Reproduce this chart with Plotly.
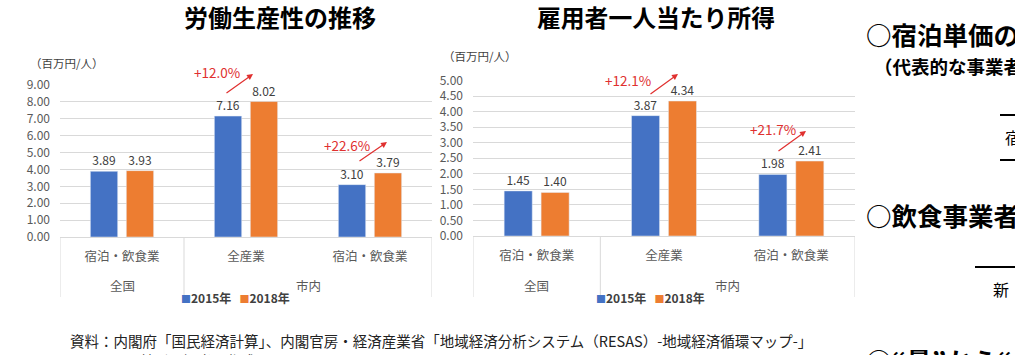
import plotly.graph_objects as go

# ---------------- data ----------------
outer_cats = ["全国", "市内", "市内"]
inner_cats = ["宿泊・飲食業", "全産業", "宿泊・飲食業"]
series_names = ["2015年", "2018年"]

productivity_2015 = [3.89, 7.16, 3.10]
productivity_2018 = [3.93, 8.02, 3.79]

income_2015 = [1.45, 3.87, 1.98]
income_2018 = [1.40, 4.34, 2.41]

prod_ticks = [0, 1, 2, 3, 4, 5, 6, 7, 8, 9]
income_ticks = [0, 0.5, 1, 1.5, 2, 2.5, 3, 3.5, 4, 4.5, 5]

growth_prod = ["+12.0%", "+22.6%"]
growth_income = ["+12.1%", "+21.7%"]

# ---------------- style ----------------
W, H = 1015, 355
FONT = "Noto Sans CJK JP"
BLUE = "#4472C4"
ORANGE = "#ED7D31"
GRID = "#D9D9D9"
TICK = "#595959"
LABEL = "#404040"
RED = "#E0302F"


def px(x):
    return x / W


def py(y):
    return 1 - y / H


cat_keys = [f"{o}|{i}|{k}" for k, (o, i) in enumerate(zip(outer_cats, inner_cats))]

fig = go.Figure()


def add_bars(vals, name, color, xa, ya):
    fig.add_trace(go.Bar(x=cat_keys, y=vals, name=name, marker_color=color,
                         xaxis=xa, yaxis=ya, showlegend=False,
                         text=[f"{v:.2f}" for v in vals], textposition="outside",
                         cliponaxis=False,
                         textfont=dict(size=12, color=LABEL, family=FONT)))


add_bars(productivity_2015, series_names[0], BLUE, "x", "y")
add_bars(productivity_2018, series_names[1], ORANGE, "x", "y")
add_bars(income_2015, series_names[0], BLUE, "x2", "y2")
add_bars(income_2018, series_names[1], ORANGE, "x2", "y2")

xaxis_common = dict(type="category", showgrid=False, showline=True, linecolor=GRID,
                    linewidth=1, ticks="", tickvals=cat_keys, ticktext=inner_cats,
                    tickfont=dict(size=12.5, color=TICK, family=FONT),
                    ticklabelstandoff=8, zeroline=False, automargin=False,
                    range=[-0.5, 2.5])
yaxis_common = dict(showgrid=True, gridcolor=GRID, gridwidth=1, showline=False,
                    zeroline=False, ticks="", tickformat=".2f", automargin=False,
                    tickfont=dict(size=12, color=TICK, family=FONT),
                    ticklabelstandoff=9)

fig.update_layout(
    width=W, height=H, autosize=False,
    margin=dict(l=0, r=0, t=0, b=0, pad=0),
    paper_bgcolor="white", plot_bgcolor="white",
    font=dict(family=FONT),
    barmode="group", bargap=0.42, bargroupgap=0.24,
    showlegend=False,
    xaxis=dict(domain=[px(60), px(432)], anchor="y", **xaxis_common),
    yaxis=dict(domain=[py(237), py(85)], anchor="x", range=[0, 9],
               tickvals=prod_ticks, **yaxis_common),
    xaxis2=dict(domain=[px(473), px(855)], anchor="y2", **xaxis_common),
    yaxis2=dict(domain=[py(236), py(80.5)], anchor="x2", range=[0, 5],
                tickvals=income_ticks, **yaxis_common),
)

ann = []
# titles
ann.append(dict(text="<b>労働生産性の推移</b>", x=px(280), y=py(16), font=dict(size=24, color="black")))
ann.append(dict(text="<b>雇用者一人当たり所得</b>", x=px(656), y=py(16), font=dict(size=23.8, color="black")))
# unit labels
ann.append(dict(text="（百万円/人）", x=px(28), y=py(63), xanchor="left", font=dict(size=11.5, color=LABEL)))
ann.append(dict(text="（百万円/人）", x=px(441), y=py(56), xanchor="left", font=dict(size=11.5, color=LABEL)))
# outer category labels
for xa in ("x", "x2"):
    ann.append(dict(text=outer_cats[0], xref=xa, x=0, y=py(285), font=dict(size=12.5, color=TICK)))
    ann.append(dict(text=outer_cats[1], xref=xa, x=1.5, y=py(285), font=dict(size=12.5, color=TICK)))
# legends (coloured square glyph + series name)
leg_txt = (f"<span style='color:{BLUE};font-size:10px'>■</span><b>{series_names[0]}</b>"
           f"&nbsp;&nbsp;&nbsp;<span style='color:{ORANGE};font-size:10px'>■</span><b>{series_names[1]}</b>")
ann.append(dict(text=leg_txt, x=px(179), y=py(297), xanchor="left", font=dict(size=12, color=LABEL)))
ann.append(dict(text=leg_txt, x=px(594), y=py(297), xanchor="left", font=dict(size=12, color=LABEL)))
# growth labels
ann.append(dict(text=growth_prod[0], x=px(217), y=py(72), font=dict(size=13.5, color=RED)))
ann.append(dict(text=growth_prod[1], x=px(347), y=py(145), font=dict(size=13.5, color=RED)))
ann.append(dict(text=growth_income[0], x=px(628), y=py(80), font=dict(size=13.5, color=RED)))
ann.append(dict(text=growth_income[1], x=px(773), y=py(129), font=dict(size=13.5, color=RED)))
# arrows (head, tail)
arrows = [((253, 74), (225, 94)), ((387, 142), (358, 162)),
          ((678, 74), (649, 95)), ((806, 131), (777, 152))]
for (hx, hy), (tx, ty) in arrows:
    ann.append(dict(text="", x=px(hx), y=py(hy), ax=tx - hx, ay=ty - hy, showarrow=True,
                    arrowhead=2, arrowsize=1, arrowwidth=1.2, arrowcolor=RED,
                    axref="pixel", ayref="pixel"))
# source note
ann.append(dict(text="資料：内閣府「国民経済計算」、内閣官房・経済産業省「地域経済分析システム（RESAS）-地域経済循環マップ-」",
                x=px(68), y=py(340), xanchor="left", font=dict(size=14.5, color="#222222")))
ann.append(dict(text="に基づき観光課作成", x=px(123), y=py(348), xanchor="left", yanchor="top",
                font=dict(size=14.5, color="#222222")))
# right-hand slide text
ann.append(dict(text="<b>○宿泊単価の</b>", x=px(864), y=py(34), xanchor="left", font=dict(size=25.5, color="black")))
ann.append(dict(text="<b>（代表的な事業者</b>", x=px(872), y=py(66), xanchor="left", font=dict(size=18.5, color="black")))
ann.append(dict(text="宿", x=px(1003), y=py(137), xanchor="left", font=dict(size=16, color="black")))
ann.append(dict(text="<b>○飲食事業者</b>", x=px(864), y=py(214), xanchor="left", font=dict(size=25.5, color="black")))
ann.append(dict(text="新", x=px(991), y=py(289), xanchor="left", font=dict(size=16, color="black")))
ann.append(dict(text="<b>○“量”から“</b>", x=px(864), y=py(339), xanchor="left", yanchor="top",
                font=dict(size=25.5, color="black")))

for a in ann:
    a.setdefault("xref", "paper")
    a.setdefault("yref", "paper")
    a.setdefault("showarrow", False)
    a.setdefault("xanchor", "center")
    a.setdefault("yanchor", "middle")
fig.update_layout(annotations=ann)

shapes = []
# category-axis dividers (left edge, between outer groups, right edge)
for xa, y0 in (("x", 237), ("x2", 236)):
    for xv in (-0.5, 0.5, 2.5):
        shapes.append(dict(type="line", xref=xa, yref="paper", x0=xv, x1=xv,
                           y0=py(y0), y1=py(297), line=dict(color=GRID, width=1)))
# rules on the right-hand slide text
for x0, yv in ((1000, 115), (1000, 160), (975, 267)):
    shapes.append(dict(type="line", xref="paper", yref="paper", x0=px(x0), x1=px(1015),
                       y0=py(yv), y1=py(yv), line=dict(color="black", width=2)))
fig.update_layout(shapes=shapes)

fig.write_html("out.html",
               config={"displayModeBar": False},
               post_script="document.body.style.margin='0px';document.body.style.overflow='hidden';")
